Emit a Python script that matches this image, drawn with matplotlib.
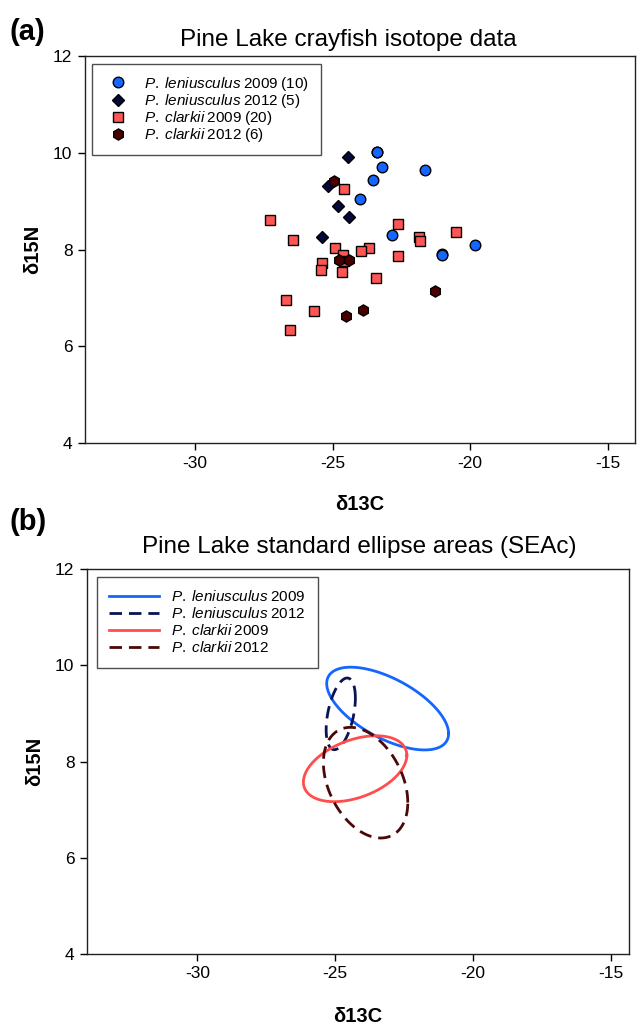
import numpy as np
import matplotlib
matplotlib.use("Agg")
import matplotlib.pyplot as plt

plt.rcParams['font.family'] = ['Liberation Sans', 'DejaVu Sans']
plt.rcParams['mathtext.fontset'] = 'custom'
plt.rcParams['mathtext.rm'] = 'Liberation Sans'
plt.rcParams['mathtext.it'] = 'Liberation Sans:italic'
plt.rcParams['mathtext.bf'] = 'Liberation Sans:bold'
plt.rcParams['axes.unicode_minus'] = False

# ---------------- data: panel (a) ----------------
pl09_x = [-23.39, -23.19, -21.64, -23.54, -23.99, -22.85, -19.82, -21.02, -23.40, -21.03]
pl09_y = [10.02, 9.70, 9.64, 9.43, 9.05, 8.29, 8.10, 7.90, 10.01, 7.89]
pl12_x = [-24.42, -25.16, -24.81, -24.40, -25.39]
pl12_y = [9.92, 9.31, 8.90, 8.68, 8.25]
pc09_x = [-27.26, -26.42, -24.58, -22.61, -21.85, -21.81, -20.52, -24.92, -24.61, -24.58,
          -23.67, -23.95, -22.61, -25.37, -25.43, -24.64, -23.41, -26.69, -25.67, -26.53]
pc09_y = [8.62, 8.19, 9.25, 8.52, 8.25, 8.17, 8.36, 8.03, 7.89, 7.76,
          8.04, 7.96, 7.87, 7.72, 7.58, 7.54, 7.42, 6.95, 6.72, 6.33]
pc12_x = [-24.93, -24.75, -24.39, -21.28, -23.89, -24.51]
pc12_y = [9.41, 7.79, 7.79, 7.15, 6.74, 6.62]

labels_a = [r"$\mathit{P.\;leniusculus}\;\mathrm{2009\;(10)}$",
            r"$\mathit{P.\;leniusculus}\;\mathrm{2012\;(5)}$",
            r"$\mathit{P.\;clarkii}\;\mathrm{2009\;(20)}$",
            r"$\mathit{P.\;clarkii}\;\mathrm{2012\;(6)}$"]

# ---------------- data: panel (b) SEAc ellipses ----------------
# centre x, centre y, sd x, sd y, correlation
ell_names = [r"$\mathit{P.\;leniusculus}\;\mathrm{2009}$",
             r"$\mathit{P.\;leniusculus}\;\mathrm{2012}$",
             r"$\mathit{P.\;clarkii}\;\mathrm{2009}$",
             r"$\mathit{P.\;clarkii}\;\mathrm{2012}$"]
ell_cx = [-23.10, -24.80, -24.28, -23.90]
ell_cy = [9.10, 8.99, 7.85, 7.56]
ell_sx = [2.21, 0.53, 1.875, 1.53]
ell_sy = [0.86, 0.745, 0.685, 1.15]
ell_rho = [-0.605, 0.44, 0.405, -0.36]

xticks = [-30, -25, -20, -15]
yticks = [4, 6, 8, 10, 12]

c_blue = '#1466ff'
c_navy = '#06063a'
c_red = '#ff5555'
c_maroon = '#4a0000'

W, H = 638, 1028
fig = plt.figure(figsize=(W / 100, H / 100), dpi=100)

def style_axes(ax, xlim, ylim):
    ax.set_xlim(*xlim)
    ax.set_ylim(*ylim)
    ax.set_xticks(xticks)
    ax.set_yticks(yticks)
    ax.tick_params(direction='out', length=5, width=1, labelsize=12.5,
                   top=False, right=False, pad=4)
    for s in ax.spines.values():
        s.set_linewidth(1.0)
        s.set_color('#222222')
    ax.set_xlabel('δ13C', fontsize=14.5, fontweight='bold', labelpad=18)
    ax.set_ylabel('δ15N', fontsize=14.5, fontweight='bold', labelpad=8)

leg_kw = dict(loc='upper left', fontsize=11, frameon=True, fancybox=False,
              edgecolor='#222222', borderaxespad=0)

# ---- panel (a)
axa = fig.add_axes([85 / W, 1 - 443 / H, 550 / W, 387 / H])
mk = dict(markeredgecolor='black', markeredgewidth=1.0, linestyle='none')
axa.plot(pl09_x, pl09_y, marker='o', markersize=7.6, markerfacecolor=c_blue, label=labels_a[0], **mk)
axa.plot(pl12_x, pl12_y, marker='D', markersize=6.6, markerfacecolor=c_navy, label=labels_a[1], **mk)
axa.plot(pc09_x, pc09_y, marker='s', markersize=7.0, markerfacecolor=c_red, label=labels_a[2], **mk)
axa.plot(pc12_x, pc12_y, marker='h', markersize=8.0, markerfacecolor=c_maroon, label=labels_a[3], **mk)
style_axes(axa, (-34, -14), (4, 12))
leg = axa.legend(bbox_to_anchor=(0.012, 0.98), handlelength=2.07, handletextpad=0.67,
                 borderpad=0.72, labelspacing=-0.05, **leg_kw)
leg.get_frame().set_linewidth(1.0)

fig.text(348 / W, 1 - 40 / H, 'Pine Lake crayfish isotope data', ha='center', va='center', fontsize=17.5)
fig.text(10 / W, 1 - 32 / H, '(a)', ha='left', va='center', fontsize=21, fontweight='bold')

# ---- panel (b)
axb = fig.add_axes([87 / W, 1 - 954 / H, 542 / W, 385 / H])
t = np.linspace(0, 2 * np.pi, 400)
ell_colors = [c_blue, '#0a1450', '#ff4d4d', '#4a0808']
ell_styles = ['-', (0, (4.5, 2.5)), '-', (0, (4.5, 2.5))]
for cx, cy, sx, sy, r, col, ls, nm in zip(ell_cx, ell_cy, ell_sx, ell_sy, ell_rho,
                                          ell_colors, ell_styles, ell_names):
    ex = cx + sx * np.cos(t)
    ey = cy + sy * (r * np.cos(t) + np.sqrt(1 - r * r) * np.sin(t))
    axb.plot(ex, ey, color=col, linestyle=ls, linewidth=2.0, label=nm)
style_axes(axb, (-34, -14.35), (4, 12))
legb = axb.legend(bbox_to_anchor=(0.018, 0.98), handlelength=3.27, handletextpad=0.78,
                  borderpad=0.8, labelspacing=0.14, **leg_kw)
legb.get_frame().set_linewidth(1.0)

fig.text(359 / W, 1 - 547 / H, 'Pine Lake standard ellipse areas (SEAc)', ha='center', va='center', fontsize=17.5)
fig.text(10 / W, 1 - 522 / H, '(b)', ha='left', va='center', fontsize=21, fontweight='bold')

fig.savefig('out.png', dpi=100)
